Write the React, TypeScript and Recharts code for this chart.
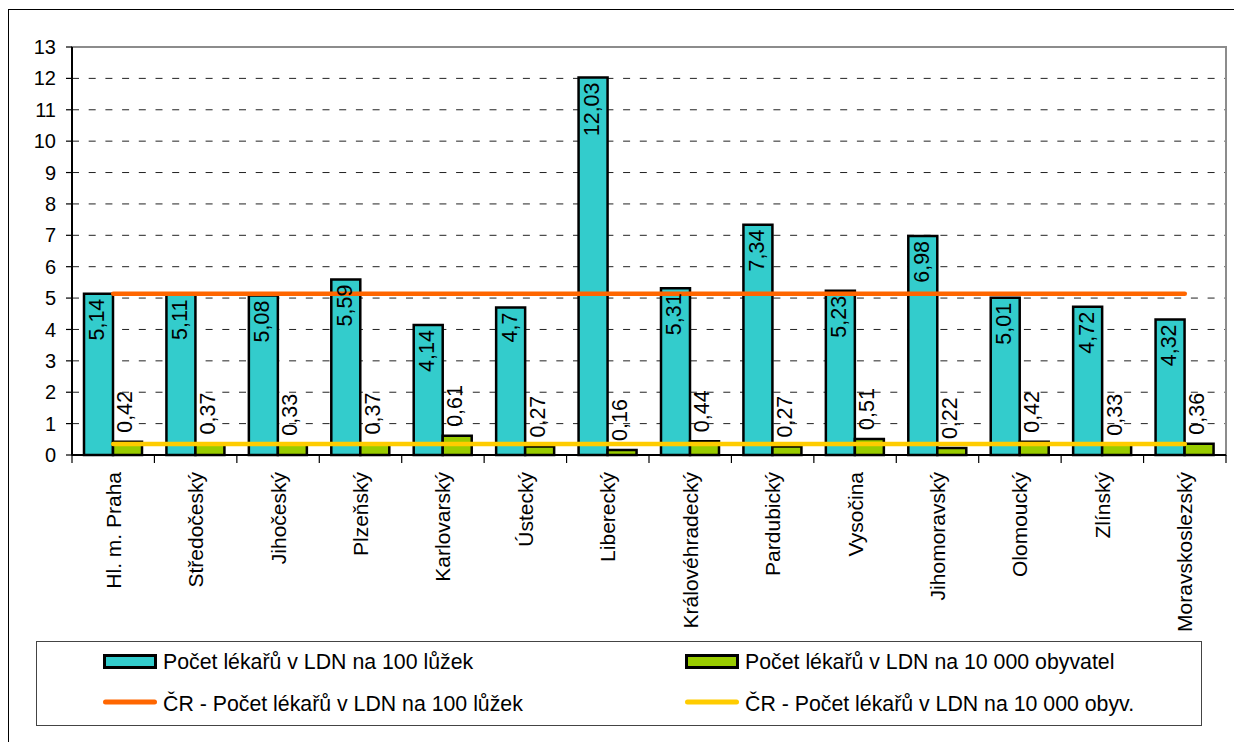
import React from 'react';
import {
  Bar,
  CartesianGrid,
  ComposedChart,
  LabelList,
  Line,
  ReferenceArea,
  XAxis,
  YAxis,
} from 'recharts';

const regions = [
  'Hl. m. Praha',
  'Středočeský',
  'Jihočeský',
  'Plzeňský',
  'Karlovarský',
  'Ústecký',
  'Liberecký',
  'Královéhradecký',
  'Pardubický',
  'Vysočina',
  'Jihomoravský',
  'Olomoucký',
  'Zlínský',
  'Moravskoslezský',
];

const doctorsPer100Beds = [5.14, 5.11, 5.08, 5.59, 4.14, 4.7, 12.03, 5.31, 7.34, 5.23, 6.98, 5.01, 4.72, 4.32];
const doctorsPer10kPop = [0.42, 0.37, 0.33, 0.37, 0.61, 0.27, 0.16, 0.44, 0.27, 0.51, 0.22, 0.42, 0.33, 0.36];

// national averages, drawn as flat lines across all regions
const czPer100Beds = 5.14;
const czPer10kPop = 0.35;

const yTicks = [0, 1, 2, 3, 4, 5, 6, 7, 8, 9, 10, 11, 12, 13];
const gridValues = [1, 2, 3, 4, 5, 6, 7, 8, 9, 10, 11, 12];

const seriesNames = {
  per100: 'Počet lékařů v LDN na 100 lůžek',
  per10k: 'Počet lékařů v LDN na 10 000 obyvatel',
  cr100: 'ČR - Počet lékařů v LDN na 100 lůžek',
  cr10k: 'ČR - Počet lékařů v LDN na 10 000 obyv.',
};

const COLORS = {
  per100: '#33CCCC',
  per10k: '#99CC00',
  cr100: '#FF6600',
  cr10k: '#FFCC00',
};

const FONT = '"Liberation Sans", Arial, sans-serif';

const chartData = regions.map((region, i) => ({
  region,
  per100: doctorsPer100Beds[i],
  per10k: doctorsPer10kPop[i],
  cr100: czPer100Beds,
  cr10k: czPer10kPop,
}));

const fmt = (v: number) => String(v).replace('.', ',');

function RegionTick(props: any) {
  const { x, y, payload, index } = props;
  const half = payload.offset || 1154 / regions.length / 2;
  const ty = y + 17;
  return (
    <g>
      <line x1={x - half} x2={x - half} y1={y} y2={y + 8} stroke="#000" strokeWidth={1.2} />
      {index === regions.length - 1 && (
        <line x1={x + half} x2={x + half} y1={y} y2={y + 8} stroke="#000" strokeWidth={1.2} />
      )}
      <text
        x={x}
        y={ty}
        transform={`rotate(-90, ${x}, ${ty})`}
        textAnchor="end"
        dominantBaseline="central"
        fontSize={21}
        fontFamily={FONT}
        fill="#000"
      >
        {payload.value}
      </text>
    </g>
  );
}

// value written inside the top of the bar, reading upwards
function InsideTopLabel(props: any) {
  const { x, y, width, value } = props;
  const cx = x + width / 2 - 1;
  const ty = y + 5;
  return (
    <text
      x={cx}
      y={ty}
      transform={`rotate(-90, ${cx}, ${ty})`}
      textAnchor="end"
      dominantBaseline="central"
      fontSize={21.5}
      fontFamily={FONT}
      fill="#000"
    >
      {fmt(value)}
    </text>
  );
}

// value written above the bar, reading upwards
function AboveLabel(props: any) {
  const { x, y, width, value } = props;
  const cx = x + width / 2 - 2;
  const ty = y - 9;
  return (
    <text
      x={cx}
      y={ty}
      transform={`rotate(-90, ${cx}, ${ty})`}
      textAnchor="start"
      dominantBaseline="central"
      fontSize={21.5}
      fontFamily={FONT}
      fill="#000"
    >
      {fmt(value)}
    </text>
  );
}

function ChartLegend() {
  const rows = [
    [
      { kind: 'bar', color: COLORS.per100, name: seriesNames.per100 },
      { kind: 'bar', color: COLORS.per10k, name: seriesNames.per10k },
    ],
    [
      { kind: 'line', color: COLORS.cr100, name: seriesNames.cr100 },
      { kind: 'line', color: COLORS.cr10k, name: seriesNames.cr10k },
    ],
  ];
  const colX = [67, 649];
  const rowY = [21, 61];
  const textY = [21, 63];
  return (
    <svg
      width={1166}
      height={86}
      style={{ position: 'absolute', left: 36, top: 641 }}
    >
      <rect x={0.5} y={0.5} width={1165} height={84} fill="#fff" stroke="#444" strokeWidth={1} />
      {rows.map((row, r) =>
        row.map((item, c) => {
          const x0 = colX[c];
          const cy = rowY[r];
          return (
            <g key={`${r}-${c}`}>
              {item.kind === 'bar' ? (
                <rect x={x0 + 1.5} y={cy - 6.5} width={51} height={12} fill={item.color} stroke="#000" strokeWidth={3} />
              ) : (
                <line x1={x0 + 2.5} x2={x0 + 51.5} y1={cy} y2={cy} stroke={item.color} strokeWidth={5} strokeLinecap="round" />
              )}
              <text
                x={x0 + 60}
                y={textY[r]}
                dominantBaseline="central"
                fontSize={21.3}
                fontFamily={FONT}
                fill="#000"
              >
                {item.name}
              </text>
            </g>
          );
        })
      )}
    </svg>
  );
}

export default function App() {
  return (
    <div
      style={{
        position: 'fixed',
        left: 0,
        top: 0,
        width: 1234,
        height: 742,
        overflow: 'hidden',
        background: '#fff',
        fontFamily: FONT,
      }}
    >
      <div
        style={{
          position: 'absolute',
          left: 8,
          top: 9,
          width: 1300,
          height: 800,
          border: '1px solid #000',
        }}
      />
      <div style={{ position: 'absolute', left: 0, top: 0 }}>
        <ComposedChart
          width={1234}
          height={742}
          data={chartData}
          margin={{ top: 47, right: 8, left: 0, bottom: 107 }}
          barCategoryGap={12}
          barGap={0}
        >
          <ReferenceArea y1={0} y2={13} fill="none" stroke="#8c8c8c" strokeWidth={2} />
          <CartesianGrid
            vertical={false}
            horizontalValues={gridValues}
            stroke="#222"
            strokeDasharray="7 9.7"
          />
          <XAxis
            dataKey="region"
            interval={0}
            height={180}
            tickLine={false}
            tickSize={0}
            tickMargin={0}
            axisLine={{ stroke: '#000', strokeWidth: 2 }}
            tick={<RegionTick />}
          />
          <YAxis
            width={72}
            domain={[0, 13]}
            ticks={yTicks}
            interval={0}
            allowDecimals={false}
            tickSize={6}
            tickMargin={10}
            axisLine={{ stroke: '#000', strokeWidth: 2 }}
            tickLine={{ stroke: '#000', strokeWidth: 1.2 }}
            tick={{ fill: '#000', fontSize: 20, fontFamily: FONT }}
          />
          <Bar dataKey="per100" fill={COLORS.per100} stroke="#000" strokeWidth={2.5} isAnimationActive={false}>
            <LabelList dataKey="per100" content={<InsideTopLabel />} />
          </Bar>
          <Bar dataKey="per10k" fill={COLORS.per10k} stroke="#000" strokeWidth={2.5} isAnimationActive={false}>
            <LabelList dataKey="per10k" content={<AboveLabel />} />
          </Bar>
          <Line
            dataKey="cr100"
            stroke={COLORS.cr100}
            strokeWidth={4.5}
            strokeLinecap="round"
            dot={false}
            activeDot={false}
            isAnimationActive={false}
          />
          <Line
            dataKey="cr10k"
            stroke={COLORS.cr10k}
            strokeWidth={4.5}
            strokeLinecap="round"
            dot={false}
            activeDot={false}
            isAnimationActive={false}
          />
        </ComposedChart>
      </div>
      <ChartLegend />
    </div>
  );
}
